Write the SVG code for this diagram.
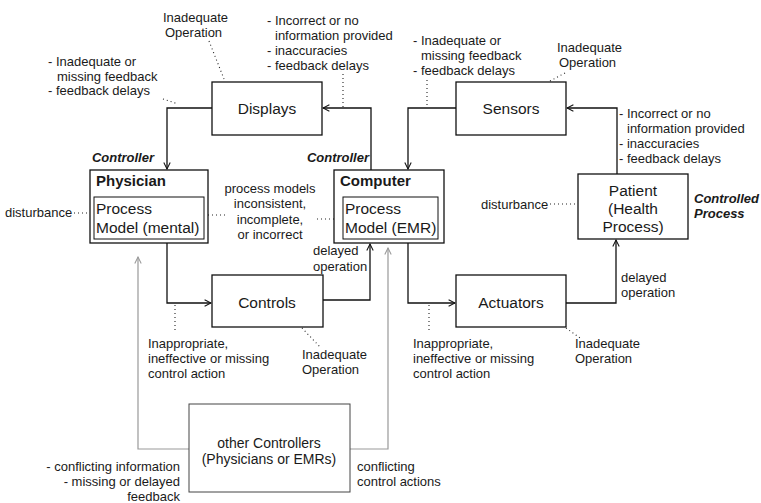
<svg xmlns="http://www.w3.org/2000/svg" width="761" height="503" viewBox="0 0 761 503">
  <defs>
    <marker id="arrow" viewBox="0 0 10 10" refX="9" refY="5" markerWidth="8" markerHeight="8" markerUnits="userSpaceOnUse" orient="auto">
      <path d="M1,1 L9,5 L1,9" fill="none" stroke="#111" stroke-width="1.3"/>
    </marker>
    <marker id="arrow-gray" viewBox="0 0 10 10" refX="9" refY="5" markerWidth="8" markerHeight="8" markerUnits="userSpaceOnUse" orient="auto">
      <path d="M1,1 L9,5 L1,9" fill="none" stroke="#999" stroke-width="1.3"/>
    </marker>
  </defs>
  <style>
    text { font-family: "Liberation Sans", Arial, Helvetica, sans-serif; fill: #1a1a1a; }
    .box { fill: #fff; stroke: #111; stroke-width: 1.3; }
    .inner { fill: none; stroke: #111; stroke-width: 1; }
    .other { fill: #fff; stroke: #444; stroke-width: 1; }
    .label { font-size: 15.5px; }
    .title { font-size: 15px; font-weight: bold; }
    .small { font-size: 13px; }
    .role { font-size: 13px; font-weight: bold; font-style: italic; }
    .wire { fill: none; stroke: #111; stroke-width: 1.3; marker-end: url(#arrow); }
    .wire-gray { fill: none; stroke: #999; stroke-width: 1.2; marker-end: url(#arrow-gray); }
    .dots { fill: none; stroke: #222; stroke-width: 1.1; stroke-dasharray: 1 3; }
  </style>
  <rect width="761" height="503" fill="#fff"/>

  <!-- connectors -->
  <g id="connectors">
    <path class="wire" d="M212,108 H167 V169"/>
    <path class="wire" d="M371,170 V108 H323"/>
    <path class="wire" d="M456,108 H408 V169"/>
    <path class="wire" d="M617,174 V108 H567"/>
    <path class="wire" d="M167,243 V303 H211"/>
    <path class="wire" d="M323,300 H370 V244"/>
    <path class="wire" d="M408,243 V303 H455"/>
    <path class="wire" d="M566,303 H616 V240"/>
    <path class="wire-gray" d="M189,449 H138 V257"/>
    <path class="wire-gray" d="M350,449 H388 V248"/>
  </g>

  <!-- dotted annotation leaders -->
  <g id="leaders">
    <path class="dots" d="M209,41 L224,79"/>
    <path class="dots" d="M163,99 L178,104"/>
    <path class="dots" d="M343,74 V107"/>
    <path class="dots" d="M427,80 V108"/>
    <path class="dots" d="M565,73 L550,81"/>
    <path class="dots" d="M74,213 H90"/>
    <path class="dots" d="M208,215 H225"/>
    <path class="dots" d="M317,219 H334"/>
    <path class="dots" d="M550,204 H578"/>
    <path class="dots" d="M175,305 V333"/>
    <path class="dots" d="M302,328 L320,347"/>
    <path class="dots" d="M429,305 V333"/>
    <path class="dots" d="M566,328 L580,338"/>
  </g>

  <!-- nodes -->
  <g id="displays">
    <rect class="box" x="212" y="82" width="110" height="53"/>
    <text class="label" x="267" y="114" text-anchor="middle">Displays</text>
  </g>
  <g id="sensors">
    <rect class="box" x="456" y="82" width="110" height="53"/>
    <text class="label" x="511" y="114" text-anchor="middle">Sensors</text>
  </g>
  <g id="physician">
    <rect class="box" x="90" y="170" width="118" height="73"/>
    <text class="title" x="96" y="186">Physician</text>
    <rect class="inner" x="94" y="197" width="110" height="42"/>
    <text class="label" x="96" y="213.5">Process</text>
    <text class="label" x="96" y="232.5">Model (mental)</text>
  </g>
  <g id="computer">
    <rect class="box" x="334" y="170" width="110" height="73"/>
    <text class="title" x="340" y="186">Computer</text>
    <rect class="inner" x="343" y="197" width="95" height="42"/>
    <text class="label" x="345" y="213.5">Process</text>
    <text class="label" x="345" y="232.5">Model (EMR)</text>
  </g>
  <g id="patient">
    <rect class="box" x="578" y="174" width="110" height="65"/>
    <text class="label" x="633" y="196" text-anchor="middle">Patient</text>
    <text class="label" x="633" y="214" text-anchor="middle">(Health</text>
    <text class="label" x="633" y="232" text-anchor="middle">Process)</text>
  </g>
  <g id="controls">
    <rect class="box" x="212" y="275" width="111" height="52"/>
    <text class="label" x="267" y="308" text-anchor="middle">Controls</text>
  </g>
  <g id="actuators">
    <rect class="box" x="456" y="275" width="110" height="52"/>
    <text class="label" x="511" y="308" text-anchor="middle">Actuators</text>
  </g>
  <g id="other-controllers">
    <rect class="other" x="189" y="404" width="161" height="88"/>
    <text x="269" y="448" text-anchor="middle" font-size="14">other Controllers</text>
    <text x="269" y="463.5" text-anchor="middle" font-size="14">(Physicians or EMRs)</text>
  </g>

  <!-- role labels -->
  <g id="roles">
    <text class="role" x="154" y="162" text-anchor="end">Controller</text>
    <text class="role" x="369" y="162" text-anchor="end">Controller</text>
    <text class="role" x="694" y="202.5">Controlled</text>
    <text class="role" x="694" y="217.5">Process</text>
  </g>

  <!-- annotations -->
  <g id="annotations" class="small">
    <text class="small" x="163" y="21.5">Inadequate</text>
    <text class="small" x="165" y="36.5">Operation</text>

    <text class="small" x="48" y="65.5">- Inadequate or</text>
    <text class="small" x="57" y="80.5">missing feedback</text>
    <text class="small" x="48" y="95">- feedback delays</text>

    <text class="small" x="267" y="24.5">- Incorrect or no</text>
    <text class="small" x="275" y="39.5">information provided</text>
    <text class="small" x="267" y="54.5">- inaccuracies</text>
    <text class="small" x="267" y="69.5">- feedback delays</text>

    <text class="small" x="413" y="44.5">- Inadequate or</text>
    <text class="small" x="421" y="59.5">missing feedback</text>
    <text class="small" x="413" y="74.5">- feedback delays</text>

    <text class="small" x="557" y="51.5">Inadequate</text>
    <text class="small" x="559" y="66.5">Operation</text>

    <text class="small" x="619" y="117.5">- Incorrect or no</text>
    <text class="small" x="627" y="132.5">information provided</text>
    <text class="small" x="619" y="147.5">- inaccuracies</text>
    <text class="small" x="619" y="162.5">- feedback delays</text>

    <text class="small" x="5" y="217">disturbance</text>
    <text class="small" x="481" y="208.5">disturbance</text>

    <text class="small" x="270" y="192.5" text-anchor="middle">process models</text>
    <text class="small" x="270" y="208" text-anchor="middle">inconsistent,</text>
    <text class="small" x="270" y="223.5" text-anchor="middle">incomplete,</text>
    <text class="small" x="270" y="239" text-anchor="middle">or incorrect</text>

    <text class="small" x="313" y="254.5">delayed</text>
    <text class="small" x="313" y="271">operation</text>
    <text class="small" x="621" y="281.5">delayed</text>
    <text class="small" x="621" y="296.5">operation</text>

    <text class="small" x="148" y="347.5">Inappropriate,</text>
    <text class="small" x="148" y="362.5">ineffective or missing</text>
    <text class="small" x="148" y="377.5">control action</text>
    <text class="small" x="302" y="358.5">Inadequate</text>
    <text class="small" x="302" y="373.5">Operation</text>

    <text class="small" x="413" y="347.5">Inappropriate,</text>
    <text class="small" x="413" y="362.5">ineffective or missing</text>
    <text class="small" x="413" y="377.5">control action</text>
    <text class="small" x="575" y="347.5">Inadequate</text>
    <text class="small" x="575" y="362.5">Operation</text>

    <text class="small" x="180" y="470.5" text-anchor="end">- conflicting information</text>
    <text class="small" x="180" y="486" text-anchor="end">- missing or delayed</text>
    <text class="small" x="180" y="501" text-anchor="end">feedback</text>

    <text class="small" x="357" y="470.5">conflicting</text>
    <text class="small" x="357" y="486">control actions</text>
  </g>
</svg>
